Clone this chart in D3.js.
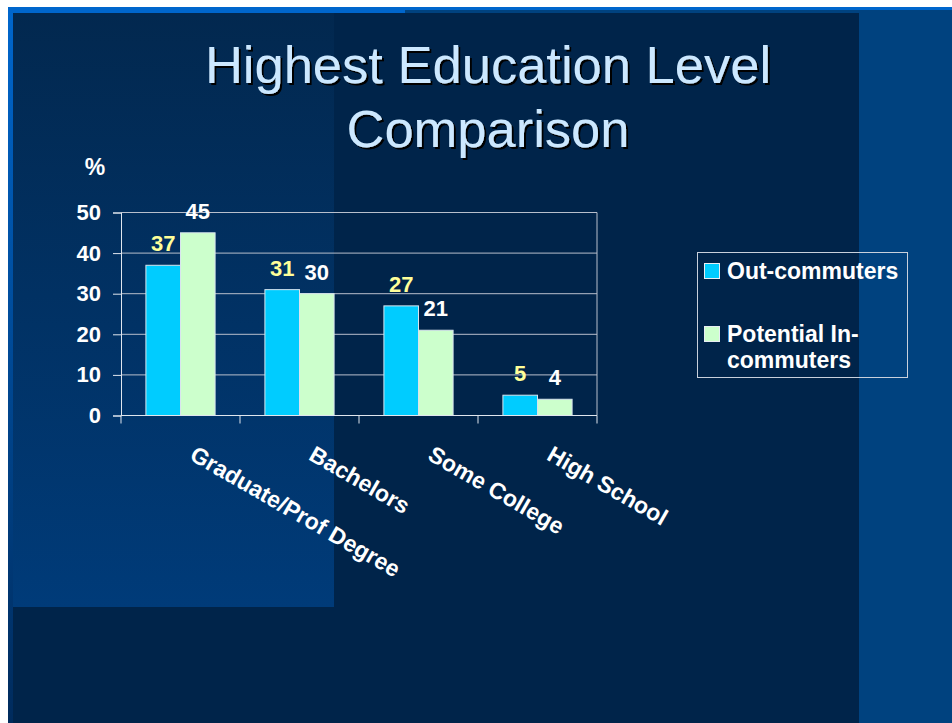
<!DOCTYPE html>
<html>
<head>
<meta charset="utf-8">
<script src="https://cdn.jsdelivr.net/npm/d3@7"></script>
<style>
  body { margin: 0; background: #fff; }
  text { font-family: Arial, "Liberation Sans", sans-serif; }
</style>
</head>
<body>
<div id="chart"></div>
<script>
(function() {

// data
var categories = ["Graduate/Prof Degree", "Bachelors", "Some College", "High School"];
var seriesNames = ["Out-commuters", "Potential In-commuters"];
var outCommuters = [37, 31, 27, 5];
var potentialIn = [45, 30, 21, 4];
var yTicks = [0, 10, 20, 30, 40, 50];

var W = 952, H = 723;

var svg = d3.select("#chart").append("svg")
    .attr("width", W)
    .attr("height", H);

var defs = svg.append("defs");

var panelGrad = defs.append("linearGradient")
    .attr("id", "panelGrad")
    .attr("x1", 0).attr("y1", 0).attr("x2", 0).attr("y2", 1);
panelGrad.append("stop").attr("offset", "0%").attr("stop-color", "#02284f");
panelGrad.append("stop").attr("offset", "100%").attr("stop-color", "#003b79");

var edgeGrad = defs.append("linearGradient")
    .attr("id", "edgeGrad")
    .attr("x1", 0).attr("y1", 0).attr("x2", 0).attr("y2", 1);
edgeGrad.append("stop").attr("offset", "0%").attr("stop-color", "#0066cc");
edgeGrad.append("stop").attr("offset", "100%").attr("stop-color", "#002b5c");

var shadow = defs.append("filter")
    .attr("id", "shadow")
    .attr("x", "-5%").attr("y", "-20%").attr("width", "110%").attr("height", "140%");
shadow.append("feDropShadow")
    .attr("dx", 2).attr("dy", 2)
    .attr("stdDeviation", 0.3)
    .attr("flood-color", "#000")
    .attr("flood-opacity", 1);

// slide background
svg.append("rect").attr("x", 8).attr("y", 7).attr("width", W - 8).attr("height", H - 7).style("fill", "#00427f");
svg.append("rect").attr("x", 8).attr("y", 7).attr("width", W - 8).attr("height", 3).style("fill", "#0066cc");
svg.append("rect").attr("x", 8).attr("y", 7).attr("width", 397).attr("height", 6).style("fill", "#0066cc");
svg.append("rect").attr("x", 8).attr("y", 13).attr("width", 5).attr("height", H - 13).style("fill", "url(#edgeGrad)");
svg.append("rect").attr("x", 13).attr("y", 13).attr("width", 846).attr("height", H - 13).style("fill", "#00244a");
svg.append("rect").attr("x", 13).attr("y", 13).attr("width", 321).attr("height", 594).style("fill", "url(#panelGrad)");

// title with drop shadow
var titleLines = ["Highest Education Level", "Comparison"];
svg.append("text")
    .attr("x", 488)
    .attr("y", 83)
    .attr("text-anchor", "middle")
    .attr("filter", "url(#shadow)")
    .style("font-size", "52.5px")
    .style("fill", "#cce8ff")
  .selectAll("tspan")
  .data(titleLines)
  .enter().append("tspan")
    .attr("x", 488)
    .attr("dy", function(d, i) { return i ? 64 : 0; })
    .text(function(d) { return d; });

// scales
var x = d3.scaleBand()
    .domain(categories)
    .range([121, 597]);

var xSub = d3.scaleBand()
    .domain(seriesNames)
    .range([0, x.bandwidth()])
    .paddingOuter(0.72);

var y = d3.scaleLinear()
    .domain([0, 50])
    .range([415.5, 212.5]);

var colors = ["#00ccff", "#ccffcc"];
var labelColors = ["#ffff99", "#ffffff"];

// gridlines
svg.append("g")
  .selectAll("line")
  .data(yTicks.slice(1))
  .enter().append("line")
    .attr("x1", 121).attr("x2", 597)
    .attr("y1", function(d) { return y(d); })
    .attr("y2", function(d) { return y(d); })
    .style("stroke", "#b8bfcc")
    .style("stroke-width", 1);

svg.append("line")
    .attr("x1", 597).attr("x2", 597)
    .attr("y1", y(50)).attr("y2", y(0))
    .style("stroke", "#b8bfcc");

// bars
var series = [outCommuters, potentialIn];
series.forEach(function(vals, s) {
  svg.append("g")
    .selectAll("rect")
    .data(vals)
    .enter().append("rect")
      .attr("x", function(d, i) { return x(categories[i]) + xSub(seriesNames[s]); })
      .attr("y", function(d) { return y(d); })
      .attr("width", xSub.bandwidth())
      .attr("height", function(d) { return y(0) - y(d); })
      .style("fill", colors[s])
      .style("stroke", "#d8e4ee")
      .style("stroke-width", 1);

  svg.append("g")
    .selectAll("text")
    .data(vals)
    .enter().append("text")
      .attr("x", function(d, i) { return x(categories[i]) + xSub(seriesNames[s]) + xSub.bandwidth() / 2; })
      .attr("y", function(d) { return y(d) - 14; })
      .attr("text-anchor", "middle")
      .style("font-size", "22px")
      .style("font-weight", "bold")
      .style("fill", labelColors[s])
      .text(function(d) { return d; });
});

// y axis
var yAxis = svg.append("g")
    .attr("transform", "translate(121,0)")
    .call(d3.axisLeft(y).tickValues(yTicks).tickSize(8).tickPadding(12));
yAxis.select(".domain").attr("stroke", "#e0e6ee");
yAxis.selectAll(".tick line").attr("stroke", "#e0e6ee");
yAxis.selectAll(".tick text")
    .style("font-size", "22px")
    .style("font-weight", "bold")
    .style("fill", "#fff");

// x axis: ticks sit on band edges
var xAxis = svg.append("g")
    .attr("transform", "translate(0," + y(0) + ")");
xAxis.append("line")
    .attr("x1", 121).attr("x2", 597)
    .style("stroke", "#e0e6ee");
xAxis.selectAll(".tk")
    .data(categories.concat(["end"]))
    .enter().append("line")
      .attr("class", "tk")
      .attr("x1", function(d, i) { return i < categories.length ? x(d) : x.range()[1]; })
      .attr("x2", function(d, i) { return i < categories.length ? x(d) : x.range()[1]; })
      .attr("y1", 0).attr("y2", 8)
      .style("stroke", "#e0e6ee");

svg.append("g")
  .selectAll("text")
  .data(categories)
  .enter().append("text")
    .attr("transform", function(d) {
      return "translate(" + (x(d) + x.bandwidth() / 2 + 8) + ",459) rotate(30)";
    })
    .style("font-size", "23px")
    .style("font-weight", "bold")
    .style("fill", "#fff")
    .text(function(d) { return d; });

// "%" unit
svg.append("text")
    .attr("x", 95).attr("y", 175)
    .attr("text-anchor", "middle")
    .style("font-size", "23px")
    .style("font-weight", "bold")
    .style("fill", "#fff")
    .text("%");

// legend
var legend = svg.append("g");
legend.append("rect")
    .attr("x", 697.5).attr("y", 252.5)
    .attr("width", 210).attr("height", 125)
    .style("fill", "none")
    .style("stroke", "#c8d0dc")
    .style("stroke-width", 1);

var legendLines = [["Out-commuters"], ["Potential In-", "commuters"]];
var legendY = [263, 326];
legendLines.forEach(function(lines, s) {
  legend.append("rect")
      .attr("x", 704.5).attr("y", legendY[s] + 0.5)
      .attr("width", 15).attr("height", 15)
      .style("fill", colors[s])
      .style("stroke", "#e8eef4");
  legend.append("text")
      .attr("x", 727)
      .attr("y", legendY[s] + 16)
      .style("font-size", "23px")
      .style("font-weight", "bold")
      .style("fill", "#fff")
    .selectAll("tspan")
    .data(lines)
    .enter().append("tspan")
      .attr("x", 727)
      .attr("dy", function(d, i) { return i ? 26 : 0; })
      .text(function(d) { return d; });
});

})();
</script>
</body>
</html>
